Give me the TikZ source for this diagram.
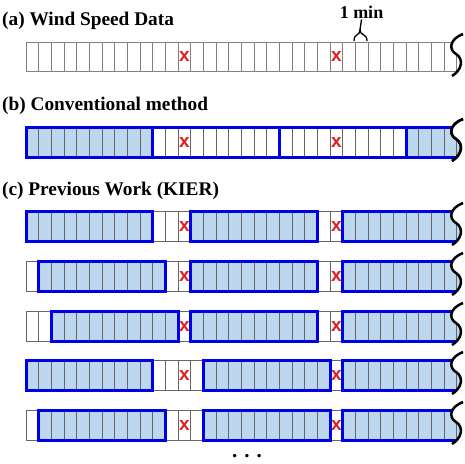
\documentclass[tikz,border=0pt]{standalone}
\usepackage{fontspec}
\setmainfont{Liberation Serif}
\newfontfamily\xfont{Liberation Sans}
\definecolor{cellfill}{HTML}{BDD7EE}
\definecolor{boxblue}{RGB}{0,0,230}
\definecolor{xred}{RGB}{225,30,30}
\definecolor{cellline}{gray}{0.4}
\definecolor{plainline}{gray}{0.5}
\newcommand\cw{12.67}
\newcommand\xo{26}
\newcommand\squigpath[1]{(463,#1-8) .. controls (450,#1-3) and (448,#1+7) .. (456,#1+12) .. controls (464,#1+17) and (462,#1+28) .. (452,#1+34)}
% #1 top, #2 height, #3 x cells, #4 filled blue boxes
\newcommand\cellrow[4]{%
  \begin{scope}
    \clip (0,#1-12) -- \squigpath{#1} -- (0,#1+36) -- cycle;
    \foreach \a/\b in {#4} \fill[cellfill] ({\xo+\a*\cw},#1) rectangle ({\xo+\b*\cw},#1+#2);
    \draw[cellgrid] (\xo,#1) rectangle (475,#1+#2);
    \foreach \i in {1,...,34} \draw[cellgrid] ({\xo+\i*\cw},#1) -- ++(0,#2);
    \foreach \c in {#3} \node[missx] (x-#1-\c) at ({\xo+\c*\cw+\cw/2},#1+#2/2) {x};
    \foreach \a/\b in {#4} \draw[bluebox] ({\xo+\a*\cw},#1) rectangle ({\xo+\b*\cw},#1+#2);
  \end{scope}
  \draw[squig] \squigpath{#1};
}
\newcommand\plainrow[3]{%
  \begin{scope}
    \clip (0,#1-12) -- \squigpath{#1} -- (0,#1+36) -- cycle;
    \draw[cellgrid, draw=plainline] (\xo,#1) rectangle (475,#1+#2);
    \foreach \i in {1,...,34} \draw[cellgrid, draw=plainline] ({\xo+\i*\cw},#1) -- ++(0,#2);
    \foreach \c in {#3} \node[missx] (x-#1-\c) at ({\xo+\c*\cw+\cw/2},#1+#2/2) {x};
  \end{scope}
  \draw[squig] \squigpath{#1};
}
\begin{document}
\begin{tikzpicture}[x=1pt,y=-1pt,
  title/.style={anchor=base west, inner sep=0, font=\fontsize{19.3}{19.3}\selectfont\bfseries},
  missx/.style={text=xred, inner sep=0, font=\xfont\fontsize{19}{19}\selectfont\bfseries},
  cellgrid/.style={draw=cellline, line width=0.8pt},
  bluebox/.style={draw=boxblue, line width=3pt},
  squig/.style={draw=black, line width=2.5pt},
  bracestyle/.style={draw=black, line width=1.3pt}
]
\useasboundingbox (0,0) rectangle (465,463);
\node[title] (ta) at (2,25) {(a) Wind Speed Data};
\node[title] (tb) at (2,110) {(b) Conventional method};
\node[title] (tc) at (2,195) {(c) Previous Work (KIER)};
\node[title, anchor=center, inner sep=1pt, font=\fontsize{18}{18}\selectfont\bfseries] (min) at (361.5,12) {1 min};

\plainrow{42}{29}{12,24}
\draw[bracestyle] (354,41) .. controls (354,33) and (360,36) .. (360,30)
   .. controls (360,36) and (367,33) .. (367,41);
\draw[bracestyle] (360,30) -- (min.south);

\cellrow{127}{30}{12,24}{0/10,30/36}
\begin{scope}
  \clip (0,115) -- \squigpath{127} -- (0,163) -- cycle;
  \foreach \a/\b in {10/20,20/30} \draw[bluebox] ({\xo+\a*\cw},127) rectangle ({\xo+\b*\cw},157);
\end{scope}
\draw[squig] \squigpath{127};

\cellrow{211}{30}{12,24}{0/10,13/23,25/36}
\cellrow{261}{30}{12,24}{1/11,13/23,25/36}
\cellrow{311}{30}{12,24}{2/12,13/23,25/36}
\cellrow{360}{30}{12,24}{0/10,14/24,25/36}
\cellrow{410}{30}{12,24}{1/11,14/24,25/36}

\node[title, anchor=base, font=\fontsize{21}{21}\selectfont\bfseries] (dots) at (247,457) {.\,\,.\,\,.};
\end{tikzpicture}
\end{document}
